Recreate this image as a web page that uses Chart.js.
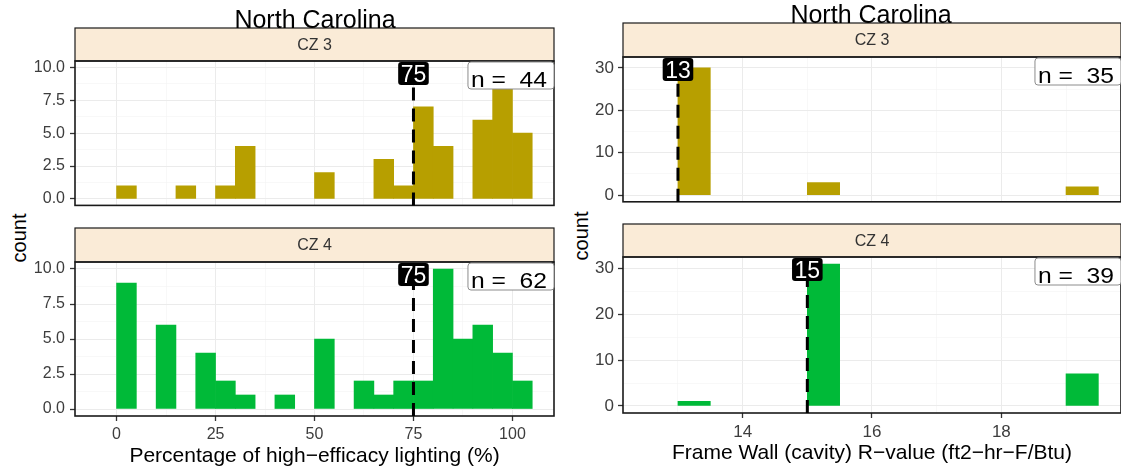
<!DOCTYPE html>
<html>
<head>
<meta charset="utf-8">
<script src="https://cdn.jsdelivr.net/npm/chart.js@4.4.1/dist/chart.umd.min.js"></script>
<style>
  html, body { margin: 0; padding: 0; background: #fff; overflow: hidden; }
  body { width: 1121px; height: 469px; position: relative; font-family: "Liberation Sans", Arial, sans-serif; }
  .panel { position: absolute; }
  .panel canvas { display: block; }
  .title { position: absolute; font-size: 25px; line-height: 25px; color: #000; white-space: nowrap; transform: translateX(-50%); z-index: 2; }
  .ylab { position: absolute; font-size: 20px; color: #000; white-space: nowrap; transform: translate(-50%, -50%) rotate(-90deg); }
</style>
</head>
<body>
<div class="title" style="left:315px; top:7px;">North Carolina</div>
<div class="title" style="left:871px; top:2px;">North Carolina</div>
<div class="ylab" style="left:19px; top:238px;">count</div>
<div class="ylab" style="left:581px; top:236px;">count</div>

<div class="panel" style="left:0; top:20px;"><canvas id="lightCz3" width="560" height="200"></canvas></div>
<div class="panel" style="left:0; top:220px;"><canvas id="lightCz4" width="560" height="249"></canvas></div>
<div class="panel" style="left:560px; top:20px;"><canvas id="wallCz3" width="562" height="196"></canvas></div>
<div class="panel" style="left:560px; top:220px;"><canvas id="wallCz4" width="562" height="249"></canvas></div>

<script>
// histogram bins (left edge of each bin)
const lightingBins = [0, 5, 10, 15, 20, 25, 30, 35, 40, 45, 50, 55, 60, 65, 70, 75, 80, 85, 90, 95, 100];
const lightingBinWidth = 5;
const lightingCz3 = [1, 0, 0, 1, 0, 1, 4, 0, 0, 0, 2, 0, 0, 3, 1, 7, 4, 0, 6, 9, 5];
const lightingCz4 = [9, 0, 6, 0, 4, 2, 1, 0, 1, 0, 5, 0, 2, 1, 2, 2, 10, 5, 6, 4, 2];
const lightingTicks = [0, 25, 50, 75, 100];
const lightingMinor = [12.5, 37.5, 62.5, 87.5];
const lightingMedian = [75, 75];
const lightingN = [44, 62];

const wallBins = [13, 13.5, 14, 14.5, 15, 15.5, 16, 16.5, 17, 17.5, 18, 18.5, 19];
const wallBinWidth = 0.5;
const wallCz3 = [30, 0, 0, 0, 3, 0, 0, 0, 0, 0, 0, 0, 2];
const wallCz4 = [1, 0, 0, 0, 31, 0, 0, 0, 0, 0, 0, 0, 7];
const wallTicks = [14, 16, 18];
const wallMinor = [13, 15, 17, 19];
const wallMedian = [13, 15];
const wallN = [35, 39];

const countTicksLight = [0, 2.5, 5, 7.5, 10];
const countMinorLight = [1.25, 3.75, 6.25, 8.75];
const countTicksWall = [0, 10, 20, 30];
const countMinorWall = [5, 15, 25];

const zoneLabels = ["CZ 3", "CZ 4"];
const zoneColors = ["#B79F00", "#00BA38"];

const FONT = '"Liberation Sans", Arial, sans-serif';
Chart.defaults.font.family = FONT;

const facetDecor = {
  id: "facetDecor",
  afterDraw(chart, args, opts) {
    const { ctx, chartArea: area, scales } = chart;
    const w = area.right - area.left;
    const h = area.bottom - area.top;
    ctx.save();

    // strip
    const stripTop = area.top - opts.stripHeight;
    ctx.fillStyle = "#FAEBD7";
    ctx.fillRect(area.left, stripTop, w, opts.stripHeight);
    ctx.strokeStyle = "#1a1a1a";
    ctx.lineWidth = 1.2;
    ctx.strokeRect(area.left, stripTop, w, opts.stripHeight);
    ctx.fillStyle = "#333";
    ctx.font = "16px " + FONT;
    ctx.textAlign = "center";
    ctx.textBaseline = "middle";
    ctx.fillText(opts.strip, area.left + w / 2, stripTop + opts.stripHeight / 2 + 1);

    // panel border
    ctx.strokeStyle = "#1a1a1a";
    ctx.lineWidth = 1.6;
    ctx.strokeRect(area.left, area.top, w, h);

    // median line + label
    const mx = scales.x.getPixelForValue(opts.median);
    ctx.font = "23px " + FONT;
    const mw = ctx.measureText(opts.medianText).width + 5;
    const mh = 23;
    const labelTop = area.top + 1;
    ctx.strokeStyle = "#000";
    ctx.lineWidth = 3;
    ctx.setLineDash([13, 8]);
    ctx.beginPath();
    ctx.moveTo(mx, area.bottom);
    ctx.lineTo(mx, labelTop + mh);
    ctx.stroke();
    ctx.setLineDash([]);
    ctx.fillStyle = "#000";
    ctx.beginPath();
    ctx.roundRect(mx - mw / 2, labelTop, mw, mh, 3);
    ctx.fill();
    ctx.fillStyle = "#fff";
    ctx.textAlign = "center";
    ctx.textBaseline = "alphabetic";
    ctx.fillText(opts.medianText, mx, labelTop + mh - 3);

    // n label
    ctx.font = "22px " + FONT;
    const stretch = 1.12;
    const tw = ctx.measureText(opts.nText).width * stretch;
    const bw = tw + 10;
    const bh = 27;
    const bx = area.right - bw;
    const by = area.top + 1;
    ctx.fillStyle = "#fff";
    ctx.strokeStyle = "#8c8c8c";
    ctx.lineWidth = 1;
    ctx.beginPath();
    ctx.roundRect(bx, by, bw, bh, 3);
    ctx.fill();
    ctx.stroke();
    ctx.fillStyle = "#000";
    ctx.textAlign = "left";
    ctx.translate(bx + 3, by + bh - 2);
    ctx.scale(stretch, 1);
    ctx.fillText(opts.nText, 0, 0);
    ctx.restore();
  }
};

function makeGrid(minor) {
  return {
    offset: false,
    color: (c) => (c.tick && minor.includes(c.tick.value) ? "#F3F3F3" : "#EBEBEB"),
    lineWidth: (c) => (c.tick && minor.includes(c.tick.value) ? 0.6 : 1),
    tickColor: (c) => (c.tick && minor.includes(c.tick.value) ? "rgba(0,0,0,0)" : "#333333"),
    tickWidth: 1.3,
    tickLength: 5
  };
}

function makeChart(id, cfg) {
  const data = cfg.bins.map((b, i) => ({ x: b + cfg.binWidth / 2, y: cfg.counts[i] }));
  const xGrid = makeGrid(cfg.xMinor);
  xGrid.drawTicks = cfg.bottom;
  return new Chart(document.getElementById(id), {
    type: "bar",
    data: {
      datasets: [{
        data: data,
        backgroundColor: (c) => (c.raw && c.raw.y > 0 ? cfg.color : "rgba(0,0,0,0)"),
        borderWidth: 0,
        barPercentage: 1,
        categoryPercentage: 1
      }]
    },
    options: {
      responsive: false,
      animation: false,
      events: [],
      layout: { padding: cfg.padding },
      plugins: {
        legend: { display: false },
        tooltip: { enabled: false },
        facetDecor: {
          strip: cfg.strip,
          stripHeight: cfg.stripHeight,
          median: cfg.median,
          medianText: String(cfg.median),
          nText: "n =  " + cfg.n
        }
      },
      scales: {
        x: {
          type: "linear",
          min: cfg.xMin,
          max: cfg.xMax,
          offset: false,
          border: { display: false },
          grid: xGrid,
          afterBuildTicks: (s) => { s.ticks = cfg.xTicks.concat(cfg.xMinor).map((v) => ({ value: v })); },
          afterFit: (s) => { s.height = cfg.xHeight; },
          ticks: {
            display: cfg.bottom,
            autoSkip: false,
            maxRotation: 0,
            minRotation: 0,
            padding: 4,
            color: "#3D3D3D",
            font: { size: cfg.tickSize },
            callback: (v) => (cfg.xTicks.includes(v) ? String(v) : "")
          },
          title: {
            display: cfg.bottom,
            text: cfg.xTitle,
            color: "#000",
            font: { size: 21, lineHeight: 1.2 },
            padding: { top: 0, bottom: cfg.titlePad }
          }
        },
        y: {
          type: "linear",
          min: cfg.yMin,
          max: cfg.yMax,
          border: { display: false },
          grid: makeGrid(cfg.yMinor),
          afterBuildTicks: (s) => { s.ticks = cfg.yTicks.concat(cfg.yMinor).map((v) => ({ value: v })); },
          afterFit: (s) => { s.width = cfg.yWidth; },
          ticks: {
            autoSkip: false,
            padding: cfg.yPad,
            color: "#3D3D3D",
            font: { size: cfg.tickSize },
            callback: (v) => (cfg.yTicks.includes(v) ? cfg.yFormat(v) : "")
          }
        }
      }
    },
    plugins: [facetDecor]
  });
}

const lightBase = {
  bins: lightingBins, binWidth: lightingBinWidth,
  xMin: -10.5, xMax: 110.5, xTicks: lightingTicks, xMinor: lightingMinor,
  yMin: -0.5, yMax: 10.5, yTicks: countTicksLight, yMinor: countMinorLight,
  yFormat: (v) => v.toFixed(1), yWidth: 75, yPad: 5, tickSize: 16,
  xTitle: "Percentage of high\u2212efficacy lighting (%)"
};
const wallBase = {
  bins: wallBins, binWidth: wallBinWidth,
  xMin: 12.15, xMax: 19.85, xTicks: wallTicks, xMinor: wallMinor,
  yMin: -1.55, yMax: 32.55, yTicks: countTicksWall, yMinor: countMinorWall,
  yFormat: (v) => String(v), yWidth: 63, yPad: 4, tickSize: 17,
  xTitle: "Frame Wall (cavity) R\u2212value (ft2\u2212hr\u2212F/Btu)"
};

makeChart("lightCz3", Object.assign({}, lightBase, {
  counts: lightingCz3, color: zoneColors[0], strip: zoneLabels[0], stripHeight: 33,
  median: lightingMedian[0], n: lightingN[0], bottom: false, xHeight: 0, titlePad: 0,
  padding: { top: 41, right: 6, bottom: 4, left: 0 }
}));
makeChart("lightCz4", Object.assign({}, lightBase, {
  counts: lightingCz4, color: zoneColors[1], strip: zoneLabels[1], stripHeight: 34,
  median: lightingMedian[1], n: lightingN[1], bottom: true, xHeight: 53, titlePad: 0,
  padding: { top: 42, right: 6, bottom: 0, left: 0 }
}));
makeChart("wallCz3", Object.assign({}, wallBase, {
  counts: wallCz3, color: zoneColors[0], strip: zoneLabels[0], stripHeight: 34,
  median: wallMedian[0], n: wallN[0], bottom: false, xHeight: 0, titlePad: 0,
  padding: { top: 37, right: 1, bottom: 4, left: 0 }
}));
makeChart("wallCz4", Object.assign({}, wallBase, {
  counts: wallCz4, color: zoneColors[1], strip: zoneLabels[1], stripHeight: 33,
  median: wallMedian[1], n: wallN[1], bottom: true, xHeight: 56, titlePad: 3,
  padding: { top: 37, right: 1, bottom: 0, left: 0 }
}));
</script>
</body>
</html>
